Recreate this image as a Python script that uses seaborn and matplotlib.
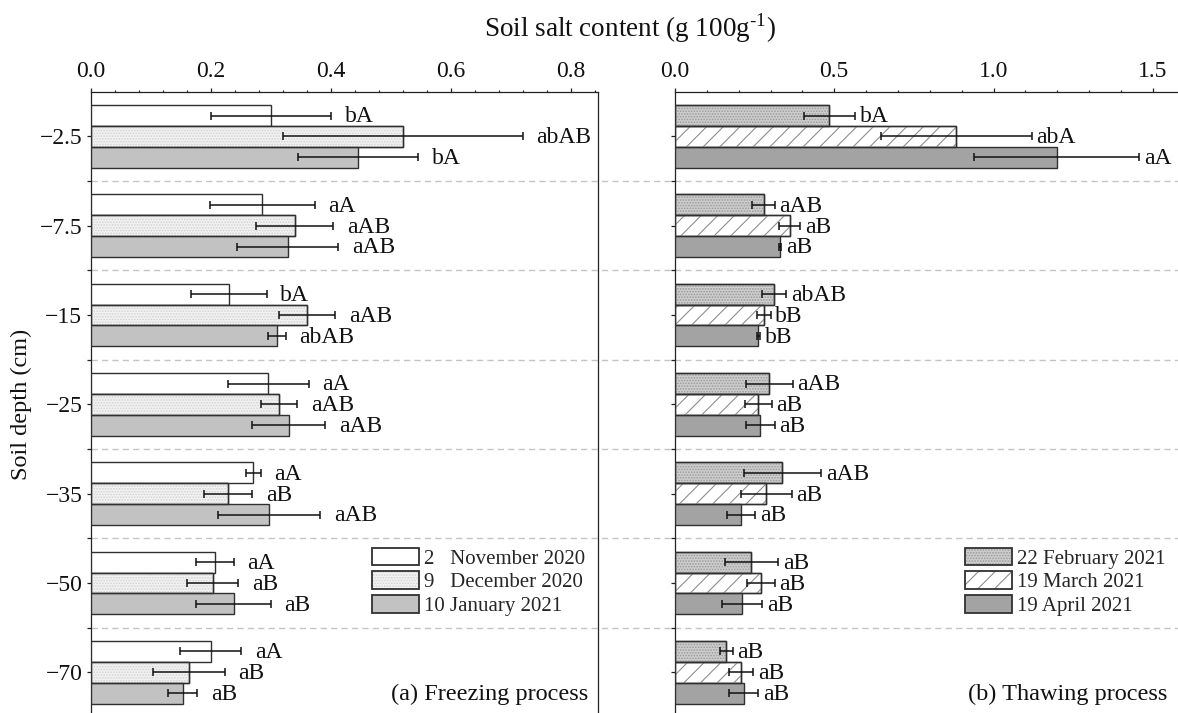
import numpy as np
import pandas as pd
import matplotlib
matplotlib.use("Agg")
import matplotlib.pyplot as plt
import matplotlib.transforms as mtransforms
from matplotlib.patches import Patch, Rectangle
from matplotlib.legend_handler import HandlerTuple
from matplotlib.ticker import MultipleLocator, AutoMinorLocator, FixedLocator
import seaborn as sns

# ---- data -------------------------------------------------------------
depths = ["\u22122.5", "\u22127.5", "\u221215", "\u221225", "\u221235", "\u221250", "\u221270"]

freeze_dates = ["2   November 2020", "9   December 2020", "10 January 2021"]
freeze_nov = [0.300, 0.286, 0.230, 0.296, 0.271, 0.207, 0.200]
freeze_dec = [0.520, 0.340, 0.360, 0.314, 0.229, 0.203, 0.163]
freeze_jan = [0.446, 0.328, 0.310, 0.330, 0.297, 0.238, 0.153]
freeze_nov_err = [0.100, 0.087, 0.063, 0.067, 0.012, 0.031, 0.051]
freeze_dec_err = [0.200, 0.064, 0.047, 0.030, 0.040, 0.043, 0.060]
freeze_jan_err = [0.100, 0.084, 0.015, 0.061, 0.085, 0.062, 0.024]
freeze_nov_sig = ["bA", "aA", "bA", "aA", "aA", "aA", "aA"]
freeze_dec_sig = ["abAB", "aAB", "aAB", "aAB", "aB", "aB", "aB"]
freeze_jan_sig = ["bA", "aAB", "abAB", "aAB", "aAB", "aB", "aB"]

thaw_dates = ["22 February 2021", "19 March 2021", "19 April 2021"]
thaw_feb = [0.485, 0.278, 0.311, 0.296, 0.337, 0.240, 0.161]
thaw_mar = [0.883, 0.361, 0.278, 0.262, 0.286, 0.270, 0.207]
thaw_apr = [1.199, 0.329, 0.262, 0.268, 0.207, 0.210, 0.216]
thaw_feb_err = [0.080, 0.035, 0.038, 0.073, 0.121, 0.084, 0.020]
thaw_mar_err = [0.237, 0.033, 0.022, 0.041, 0.080, 0.043, 0.038]
thaw_apr_err = [0.259, 0.004, 0.006, 0.045, 0.044, 0.063, 0.046]
thaw_feb_sig = ["bA", "aAB", "abAB", "aAB", "aAB", "aB", "aB"]
thaw_mar_sig = ["abA", "aB", "bB", "aB", "aB", "aB", "aB"]
thaw_apr_sig = ["aA", "aB", "bB", "aB", "aB", "aB", "aB"]

# ---- style ------------------------------------------------------------
sns.set_style("ticks")
plt.rcParams["font.family"] = ["Liberation Serif", "DejaVu Serif"]
plt.rcParams["mathtext.fontset"] = "custom"
plt.rcParams["mathtext.rm"] = "Liberation Serif"
plt.rcParams["hatch.linewidth"] = 0.8

EDGE = "#303030"
TICK_FS = 17
ANN_FS = 17
LEG_FS = 15

freeze_styles = [
    dict(face="#ffffff", hatch=None, hcolor=None),
    dict(face="#f2f2f2", hatch="......", hcolor="#d2d2d2"),
    dict(face="#c2c2c2", hatch=None, hcolor=None),
]
thaw_styles = [
    dict(face="#cdcdcd", hatch="......", hcolor="#9a9a9a"),
    dict(face="#ffffff", hatch="//", hcolor="#8e8e8e"),
    dict(face="#a3a3a3", hatch=None, hcolor=None),
]

W, H, DPI = 11.78, 7.13, 100
fig = plt.figure(figsize=(W, H), dpi=DPI)
fig.patch.set_facecolor("white")

px_w, px_h = W * DPI, H * DPI
top_px, bot_px = 91.7, 717.0
ax_a = fig.add_axes([90.7 / px_w, 1 - bot_px / px_h, 507.3 / px_w, (bot_px - top_px) / px_h])
ax_b = fig.add_axes([675.0 / px_w, 1 - bot_px / px_h, 509.6 / px_w, (bot_px - top_px) / px_h])


def draw_panel(ax, dates, values, errs, sigs, styles, xmax, major, gap_pt, show_labels):
    df = pd.DataFrame({
        "depth": np.tile(depths, len(dates)),
        "date": np.repeat(dates, len(depths)),
        "salt": np.concatenate(values),
    })
    sns.barplot(data=df, x="salt", y="depth", hue="date", order=depths,
                hue_order=dates, orient="h", width=0.7, errorbar=None,
                palette=[s["face"] for s in styles], saturation=1,
                edgecolor=EDGE, linewidth=1.0, legend=False, ax=ax, zorder=3)

    for container, err, sig, st in zip(ax.containers, errs, sigs, styles):
        for rect, e, s in zip(container, err, sig):
            x0, y0 = rect.get_xy()
            w, h = rect.get_width(), rect.get_height()
            if st["hatch"]:
                ax.add_patch(Rectangle((x0, y0), w, h, fill=False, hatch=st["hatch"],
                                       edgecolor=st["hcolor"], linewidth=0, zorder=3.1))
                ax.add_patch(Rectangle((x0, y0), w, h, fill=False, edgecolor=EDGE,
                                       linewidth=1.0, zorder=3.2))
            yc = y0 + h / 2
            xe = x0 + w
            ax.errorbar(xe, yc, xerr=e, fmt="none", ecolor="#111111",
                        elinewidth=1.1, capsize=2.6, capthick=1.1, zorder=4)
            ax.annotate(s, (xe + e, yc), xytext=(gap_pt, -1), textcoords="offset points",
                        ha="left", va="center", fontsize=ANN_FS, color="#111111",
                        zorder=5)

    ax.set_xlim(0, xmax)
    ax.set_ylim(6.5, -0.5)
    ax.xaxis.tick_top()
    ax.xaxis.set_major_locator(MultipleLocator(major))
    ax.xaxis.set_minor_locator(AutoMinorLocator(5))
    ax.xaxis.set_major_formatter(matplotlib.ticker.FormatStrFormatter("%.1f"))
    ax.tick_params(axis="x", which="both", direction="out", top=True, bottom=False,
                   labeltop=True, labelbottom=False, colors="#222222",
                   labelcolor="#111111", labelsize=TICK_FS, width=0.9, pad=4)
    ax.tick_params(axis="x", which="major", length=3.2)
    ax.tick_params(axis="x", which="minor", length=1.8)

    ax.yaxis.set_minor_locator(FixedLocator(np.arange(0.5, 6.0, 1.0)))
    ax.tick_params(axis="y", which="both", direction="out", left=True, right=False,
                   labelleft=show_labels, colors="#222222", labelcolor="#111111",
                   labelsize=TICK_FS, width=0.9, length=3.0, pad=3)
    ax.set_xlabel("")
    ax.set_ylabel("")
    for sp in ax.spines.values():
        sp.set_visible(True)
        sp.set_linewidth(0.9)
        sp.set_color("#222222")
    ax.patch.set_visible(False)

    handles = []
    for st in styles:
        parts = [Patch(facecolor=st["face"], edgecolor="none")]
        if st["hatch"]:
            parts.append(Patch(facecolor="none", edgecolor=st["hcolor"], hatch=st["hatch"], linewidth=0))
        parts.append(Patch(facecolor="none", edgecolor=EDGE, linewidth=1.3))
        handles.append(tuple(parts))
    return handles


h_a = draw_panel(ax_a, freeze_dates,
                 [freeze_nov, freeze_dec, freeze_jan],
                 [freeze_nov_err, freeze_dec_err, freeze_jan_err],
                 [freeze_nov_sig, freeze_dec_sig, freeze_jan_sig],
                 freeze_styles, 0.8455, 0.2, 10, True)
h_b = draw_panel(ax_b, thaw_dates,
                 [thaw_feb, thaw_mar, thaw_apr],
                 [thaw_feb_err, thaw_mar_err, thaw_apr_err],
                 [thaw_feb_sig, thaw_mar_sig, thaw_apr_sig],
                 thaw_styles, 1.6, 0.5, 3.5, False)

# dashed separators between depth groups, running across both panels
blend = mtransforms.blended_transform_factory(fig.transFigure, ax_a.transData)
for yb in np.arange(0.5, 6.0, 1.0):
    ax_a.add_line(plt.Line2D([90.7 / px_w, 1.0], [yb, yb], transform=blend,
                             color="#c4c4c4", lw=1.0, ls=(0, (4.5, 3)),
                             clip_on=False, zorder=1))

# legends
for ax, handles, labels, x_px in [(ax_a, h_a, freeze_dates, 371.7),
                                  (ax_b, h_b, thaw_dates, 965.0)]:
    ax.legend(handles, labels, handler_map={tuple: HandlerTuple(ndivide=1)},
              loc="upper left", bbox_to_anchor=(x_px / px_w, 1 - 547.5 / px_h),
              bbox_transform=fig.transFigure, frameon=False, fontsize=LEG_FS,
              borderpad=0, borderaxespad=0, handlelength=2.25, handleheight=0.95,
              handletextpad=0.25, labelspacing=0.12)

# panel captions
ax_a.text(0.981, 0.027, "(a) Freezing process", transform=ax_a.transAxes,
          ha="right", va="baseline", fontsize=17.5, color="#111111")
ax_b.text(0.9655, 0.027, "(b) Thawing process", transform=ax_b.transAxes,
          ha="right", va="baseline", fontsize=17.5, color="#111111")

ax_a.set_ylabel("Soil depth (cm)", fontsize=17.5, color="#111111")
ax_a.yaxis.set_label_coords(-0.116, 0.5)

fig.text(0.535, 0.960, "Soil salt content (g 100g$^{\\text{-1}}$)",
         ha="center", va="center", fontsize=19.5, color="#111111")

fig.savefig("out.png", dpi=DPI)
